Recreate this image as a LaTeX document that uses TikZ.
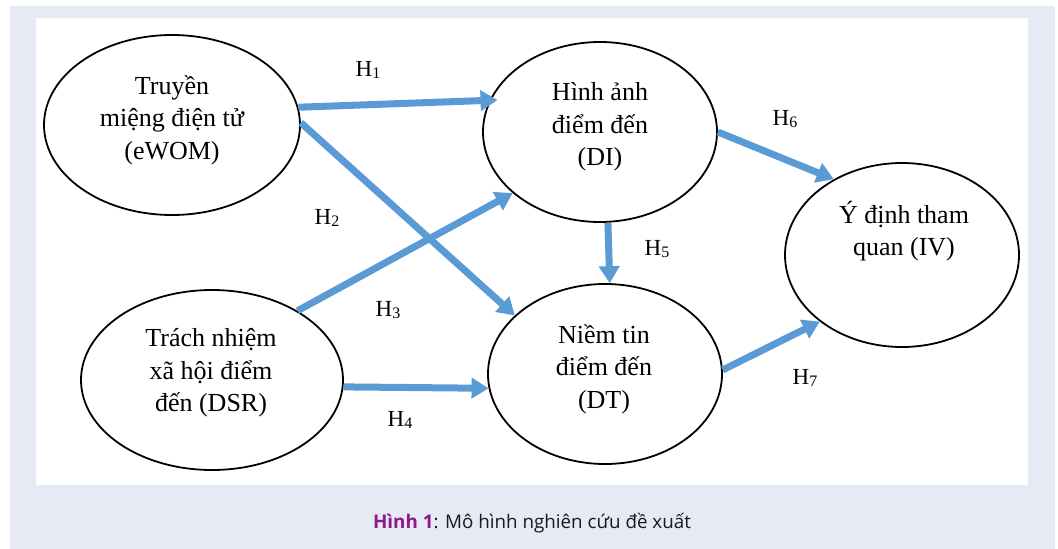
\documentclass[tikz,border=0pt]{standalone}
\usepackage{fontspec}
\setmainfont{Liberation Serif}
\newfontfamily\capfont{Open Sans}
\usetikzlibrary{shapes.geometric,arrows.meta}
\definecolor{panelbg}{HTML}{E6EAF5}
\definecolor{arrowblue}{HTML}{5B9BD5}
\definecolor{capviolet}{HTML}{8C1A8C}
\newcommand{\hlab}[1]{H\raisebox{-2.5pt}{\fontsize{16}{16}\selectfont #1}}
\begin{document}
\begin{tikzpicture}[x=1pt,y=-1pt,
  construct/.style={draw=black, line width=1.8pt, ellipse, inner sep=0pt},
  ctext/.style={align=center, font=\fontsize{26}{32.5}\selectfont, inner sep=0pt},
  hyp/.style={font=\fontsize{23}{23}\selectfont, inner sep=0pt},
  link/.style={draw=arrowblue, line width=7pt, -{Triangle[width=20pt,length=17pt]}}
]
\useasboundingbox (0,0) rectangle (1058,549);
% page frame and white panel
\fill[panelbg] (10,6) rectangle (1055,549);
\fill[white] (36,18) rectangle (1028,485);

% constructs
\node[construct, minimum width=256pt, minimum height=180pt] (ewom) at (172,125) {};
\node[construct, minimum width=234pt, minimum height=180pt] (di) at (600,132) {};
\node[construct, minimum width=234pt, minimum height=180pt] (dt) at (605,374) {};
\node[construct, minimum width=262pt, minimum height=180pt] (dsr) at (212,380) {};
\node[construct, minimum width=234pt, minimum height=184pt] (iv) at (902,255) {};

\node[ctext] (ewomtext) at (172,120) {Truyền\\miệng điện tử\\(eWOM)};
\node[ctext] (ditext) at (600,127) {Hình ảnh\\điểm đến\\(DI)};
\node[ctext] (dttext) at (604,369) {Niềm tin\\điểm đến\\(DT)};
\node[ctext] (dsrtext) at (211,373) {Trách nhiệm\\xã hội điểm\\đến (DSR)};
\node[ctext] (ivtext) at (904,231) {Ý định tham\\quan (IV)};

% hypothesised paths
\draw[link, shorten >=-8pt] (ewom.8) -- (di.164);
\draw[link] (ewom.1) -- (dt.147);
\draw[link] (dsr.39) -- (di.215);
\draw[link] (dsr.-3.5) -- (dt.187);
\draw[link] (di.-85) -- (dt.87);
\draw[link] (di.0) -- (iv.132);
\draw[link] (dt.2) -- (iv.219);

\node[hyp] (h1) at (368,70) {\hlab{1}};
\node[hyp] (h2) at (327,218) {\hlab{2}};
\node[hyp] (h3) at (388,310) {\hlab{3}};
\node[hyp] (h4) at (400,420) {\hlab{4}};
\node[hyp] (h5) at (657,249) {\hlab{5}};
\node[hyp] (h6) at (785,119) {\hlab{6}};
\node[hyp] (h7) at (805,378) {\hlab{7}};

% caption
\node[font=\capfont\fontsize{18.8}{18.8}\selectfont, text=black!90] (caption) at (532,523)
  {\textcolor{capviolet}{\bfseries Hình 1}: Mô hình nghiên cứu đề xuất};
\end{tikzpicture}
\end{document}
